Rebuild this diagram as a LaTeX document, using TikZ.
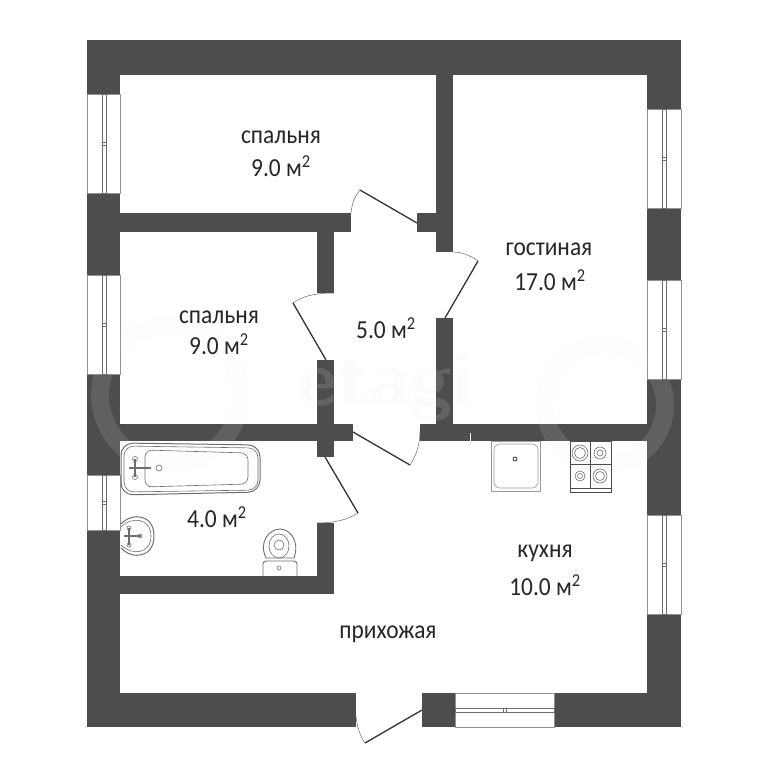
\documentclass[tikz,border=0pt]{standalone}
\usepackage{fontspec}
\setmainfont[FakeStretch=0.9]{Carlito}
\definecolor{wallgray}{HTML}{4D4D4D}
\definecolor{fixgray}{HTML}{6E6E6E}
\definecolor{markgray}{HTML}{EBEBEB}
\tikzset{
    wall/.style={fill=wallgray,draw=none},
    roomtext/.style={font=\fontsize{26}{26}\selectfont,text=black!85,inner sep=0pt},
    frame/.style={draw=gray!85,fill=white,line width=0.9pt},
    sash/.style={draw=fixgray,fill=white,line width=0.7pt},
    leaf/.style={draw=black!80,line width=1.3pt},
    swing/.style={draw=black!60,line width=0.5pt},
    fixture/.style={draw=fixgray,line width=0.6pt}
}
\begin{document}
\begin{tikzpicture}[x=1pt,y=-1pt]
    \useasboundingbox (0,0) rectangle (768,768);
    % Walls %
    \fill[wall] (87,40) rectangle (681,75);
    \fill[wall] (87,40) rectangle (120,727);
    \fill[wall] (647,40) rectangle (681,727);
    \fill[wall] (87,693) rectangle (356,727);
    \fill[wall] (422,693) rectangle (681,727);
    \fill[wall] (120,213) rectangle (351,232);
    \fill[wall] (417,213) rectangle (453,232);
    \fill[wall] (436,40) rectangle (453,252);
    \fill[wall] (436,318) rectangle (453,441);
    \fill[wall] (317,232) rectangle (334,293);
    \fill[wall] (317,360) rectangle (334,457);
    \fill[wall] (120,424) rectangle (353,441);
    \fill[wall] (420,424) rectangle (647,441);
    \fill[wall] (317,523) rectangle (334,594);
    \fill[wall] (120,576) rectangle (334,594);
    \draw[white,line width=0.8pt] (470,433) -- (470,441);

    % Watermark %
    \draw[markgray,opacity=0.12,line width=18pt] (170,395) circle (70);
    \draw[markgray,opacity=0.12,line width=18pt] (605,405) circle (60);
    \node[font=\sffamily\bfseries\fontsize{78}{78}\selectfont,text=markgray,opacity=0.14,inner sep=0pt] (watermark) at (385,387) {etagi};

    % Windows %
    \foreach \ya/\yb in {94/193,275/374,475/530} {
        \draw[frame] (87,\ya) rectangle (120,\yb);
        \draw[sash] (102,\ya) rectangle (106,\yb);
        \draw[sash] (102,{(\ya+\yb)/2-1.5}) rectangle (106,{(\ya+\yb)/2+1.5});
    }
    \foreach \ya/\yb in {109/208,280/379,515/614} {
        \draw[frame] (647,\ya) rectangle (681,\yb);
        \draw[sash] (662,\ya) rectangle (666,\yb);
        \draw[sash] (662,{(\ya+\yb)/2-1.5}) rectangle (666,{(\ya+\yb)/2+1.5});
    }
    \draw[frame] (455,693) rectangle (554,727);
    \draw[sash] (455,708) rectangle (554,712);
    \draw[sash] (503,708) rectangle (506,712);

    % Doors %
    \draw[leaf] (360,190) -- (417,223);
    \draw[swing] (351,213) .. controls (352,203) and (355,196) .. (360,190);
    \draw[leaf] (478,261) -- (445,318);
    \draw[swing] (453,252) .. controls (462,252) and (471,256) .. (478,261);
    \draw[leaf] (293,303) -- (326,360);
    \draw[swing] (293,303) .. controls (302,297) and (312,293) .. (334,293);
    \draw[leaf] (353,432) -- (410,465);
    \draw[swing] (410,465) .. controls (416,456) and (420,445) .. (420,431);
    \draw[leaf] (325,457) -- (358,513);
    \draw[swing] (358,513) .. controls (348,520) and (333,523) .. (317,523);
    \draw[leaf] (422,710) -- (365,743);
    \draw[swing] (356,716) .. controls (357,727) and (360,736) .. (365,743);

    % Bath %
    \draw[fixture,line width=1pt,rounded corners=12pt] (121,443) -- (260,445) -- (260,492) -- (121,495) -- cycle;
    \draw[fixture,rounded corners=10pt] (124,446) -- (258,448) -- (258,490) -- (124,492) -- cycle;
    \draw[fixture,rounded corners=7pt] (145,450) -- (248,453) -- (248,484) -- (145,487) -- cycle;
    \draw[fixture,line width=1.2pt] (129,468) -- (151,468);
    \draw[fixture,line width=1.2pt] (135,459) -- (135,477);
    \draw[fixture] (135,459) circle (2.5);
    \draw[fixture] (135,477) circle (2.5);
    \draw[fixture] (159,468) circle (3);

    % Basin %
    \draw[fixture,line width=1pt] (121,524) .. controls (132,512) and (154,514) .. (154,536) .. controls (154,558) and (132,560) .. (121,548);
    \draw[fixture] (121,527) .. controls (132,516) and (151,518) .. (151,536) .. controls (151,554) and (132,556) .. (121,545);
    \draw[fixture,line width=1.2pt] (124,536) -- (141,536);
    \draw[fixture,line width=1.2pt] (129,528) -- (129,545);
    \draw[fixture] (129,528) circle (2);
    \draw[fixture] (129,545) circle (2);
    \draw[fixture] (140,536) circle (2);

    % Toilet %
    \draw[fixture,line width=0.9pt] (266,558) .. controls (258,541) and (270,529) .. (280,529) .. controls (290,529) and (300,541) .. (294,558) -- cycle;
    \draw[fixture] (279,546) ellipse (10 and 12);
    \draw[fixture] (279,545) circle (5);
    \draw[fixture,line width=0.9pt,rounded corners=3pt] (263,576) -- (263,561) -- (297,561) -- (297,576);
    \draw[fixture] (279,568) circle (2);

    % Kitchen sink %
    \draw[fixture,draw=gray!80] (491,441) rectangle (540,491);
    \draw[fixture,draw=gray!80,rounded corners=6pt] (494,444) rectangle (538,488);
    \draw[fixture,draw=black!70,line width=0.9pt] (515,459) circle (2);

    % Stove %
    \draw[black!70,line width=1pt] (570,441) rectangle (611,492);
    \draw[black!70,line width=1pt] (590,441) -- (590,488);
    \draw[black!70,line width=1pt] (570,464) -- (611,464);
    \draw[black!70,line width=1pt] (570,488) -- (611,488);
    \foreach \cx/\cy/\ra/\rb in {580/453/8/5.5,600/453/6/3,580/476/5/2.5,600/476/7/4.5} {
        \draw[fixture] (\cx,\cy) circle (\ra);
        \draw[fixture] (\cx,\cy) circle (\rb);
    }

    % Labels %
    \node[roomtext] (bedrooma) at (281,137) {спальня};
    \node[roomtext] (bedroomaarea) at (281,166) {9.0 м\textsuperscript{2}};
    \node[roomtext] (bedroomb) at (219,317) {спальня};
    \node[roomtext] (bedroombarea) at (219,344) {9.0 м\textsuperscript{2}};
    \node[roomtext] (hallarea) at (386,328) {5.0 м\textsuperscript{2}};
    \node[roomtext] (lounge) at (549,249) {гостиная};
    \node[roomtext] (loungearea) at (550,280) {17.0 м\textsuperscript{2}};
    \node[roomtext] (batharea) at (217,517) {4.0 м\textsuperscript{2}};
    \node[roomtext] (kitchen) at (545,553) {кухня};
    \node[roomtext] (kitchenarea) at (545,585) {10.0 м\textsuperscript{2}};
    \node[roomtext] (entry) at (388,634) {прихожая};
\end{tikzpicture}
\end{document}
